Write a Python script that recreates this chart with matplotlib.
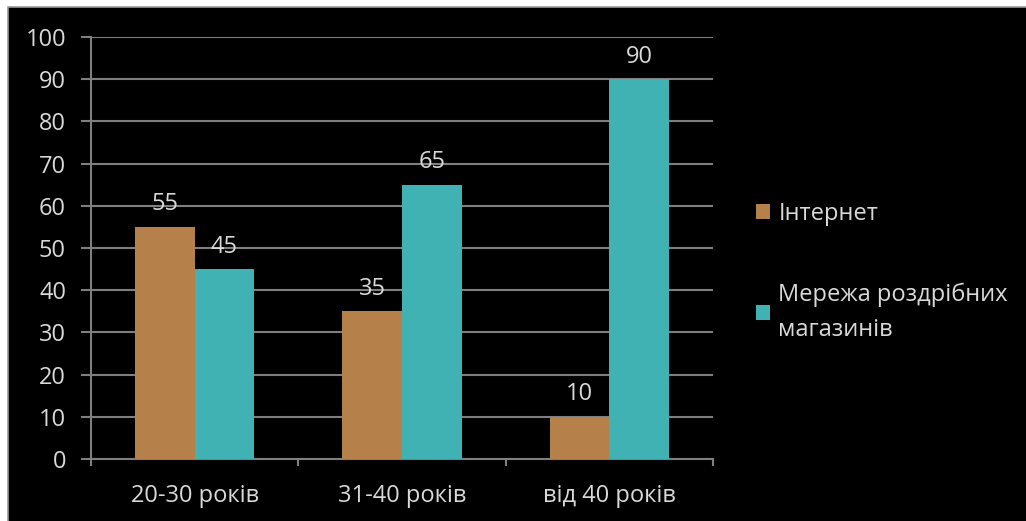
import numpy as np
import matplotlib.pyplot as plt
from matplotlib.patches import Rectangle

# Survey data: preferred place to buy, by age group (%)
groups = ["20-30 років", "31-40 років", "від 40 років"]
internet = [55, 35, 10]
retail = [45, 65, 90]
series_names = ["Інтернет", "Мережа роздрібних\nмагазинів"]

brown = "#b5804a"
teal = "#40b2b3"
text_col = "#d9d9d9"
grid_col = "#7f7f7f"
fs = 17

plt.rcParams['font.family'] = ['Open Sans', 'DejaVu Sans']

fig = plt.figure(figsize=(10.26, 5.21), dpi=100, facecolor="white")
# black slide background with a thin white margin on top/left
fig.patches.append(Rectangle((8 / 1026, -0.1), 1.2, 1.1 - 7 / 521,
                             transform=fig.transFigure, facecolor="black",
                             edgecolor="#9a9a9a", linewidth=1.2, zorder=-10))

ax = fig.add_axes([91 / 1026, 1 - 459 / 521, 622 / 1026, 422 / 521])
ax.set_facecolor("black")

x = np.arange(len(groups))
w = 0.287
b1 = ax.bar(x - w / 2, internet, w, color=brown, label=series_names[0], zorder=3)
b2 = ax.bar(x + w / 2, retail, w, color=teal, label=series_names[1], zorder=3)

for bars, vals in ((b1, internet), (b2, retail)):
    for r, v in zip(bars, vals):
        ax.text(r.get_x() + r.get_width() / 2, v + 3.9, str(v),
                ha="center", va="baseline", color=text_col, fontsize=fs)

ax.set_xlim(-0.5, 2.5)
ax.set_ylim(0, 100)
ax.set_yticks(range(0, 101, 10))
ax.yaxis.grid(True, color=grid_col, linewidth=1.5, zorder=0)
ax.set_axisbelow(True)

ax.set_xticks([-0.5, 0.5, 1.5, 2.5])
ax.set_xticklabels([])
ax.set_xticks(x, minor=True)
ax.set_xticklabels(groups, minor=True)
ax.tick_params(axis="x", which="major", length=5, width=1.5, color=grid_col)
ax.tick_params(axis="x", which="minor", length=0, pad=18,
               labelsize=fs, labelcolor=text_col)
ax.tick_params(axis="y", length=7, width=1.5, color=grid_col,
               labelsize=fs, labelcolor=text_col, pad=11)

for s in ("top", "right"):
    ax.spines[s].set_visible(False)
for s in ("left", "bottom"):
    ax.spines[s].set_color(grid_col)
    ax.spines[s].set_linewidth(1.5)

leg = ax.legend(loc="upper left", bbox_to_anchor=(1.035, 0.66), frameon=False,
                fontsize=fs, labelcolor=text_col, handlelength=0.6,
                handleheight=0.6, handletextpad=0.35, labelspacing=2.4)
for t in leg.get_texts():
    t.set_linespacing(1.6)

fig.savefig("out.png", dpi=100, facecolor=fig.get_facecolor())
